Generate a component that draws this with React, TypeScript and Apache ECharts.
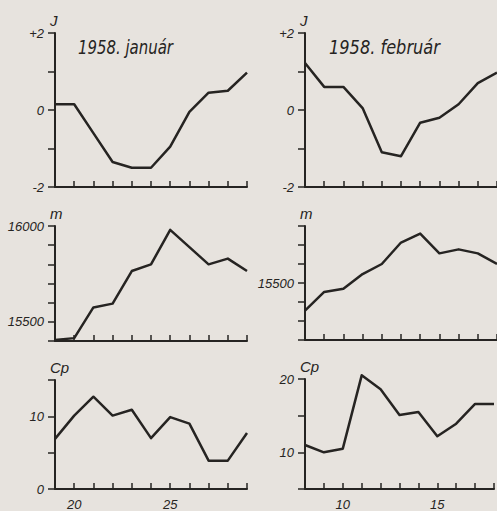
import React, { useEffect, useRef } from "react";
import * as echarts from "echarts";

// ---- data ----
const janDays = [19, 20, 21, 22, 23, 24, 25, 26, 27, 28, 29];
const febDays = [8, 9, 10, 11, 12, 13, 14, 15, 16, 17, 18];

const janJ = [0.15, 0.15, -0.6, -1.35, -1.5, -1.5, -0.95, -0.05, 0.45, 0.5, 0.97];
const febJ = [1.22, 0.6, 0.6, 0.05, -1.1, -1.2, -0.33, -0.2, 0.15, 0.7, 0.97];

const janM = [15405, 15415, 15575, 15595, 15765, 15800, 15980, 15890, 15800, 15830, 15765];
const febM = [15355, 15453, 15470, 15547, 15600, 15713, 15760, 15656, 15677, 15656, 15600];

const janCp = [6.9, 10.1, 12.7, 10.1, 10.9, 7.0, 9.9, 9.0, 3.9, 3.9, 7.7];
const febCp = [11.0, 10.0, 10.5, 20.5, 18.6, 15.1, 15.5, 12.2, 13.9, 16.6, 16.6];

const janTickLabels = [20, 25];
const febTickLabels = [10, 15];
const jLabels = [2, 0, -2];
const janMLabels = [16000, 15500];
const febMLabels = [15500];
const janCpLabels = [10, 0];
const febCpLabels = [20, 10];

const titles = ["1958. január", "1958. február"];

const INK = "#262422";
const BG = "#e7e3de";
const FONT = "'Liberation Sans', Arial, sans-serif";
const NARROW = "'Liberation Sans Narrow', 'DejaVu Sans Condensed', sans-serif";

export default function App() {
  const ref = useRef<HTMLDivElement>(null);
  useEffect(() => {
    if (!ref.current) return;
    const chart = echarts.init(ref.current, null, { renderer: "svg" });

    const grids = [
      { left: 55, top: 33, width: 192, height: 154 },
      { left: 305, top: 33, width: 192, height: 154 },
      { left: 55, top: 226, width: 192, height: 115 },
      { left: 305, top: 226, width: 192, height: 114 },
      { left: 55, top: 380, width: 192, height: 115 },
      { left: 305, top: 379, width: 192, height: 115 },
    ];

    const mkX = (gi: number, min: number, max: number, labels: number[] | null) => ({
      type: "value",
      gridIndex: gi,
      min,
      max,
      interval: 1,
      axisLine: { show: true, onZero: false, lineStyle: { color: INK, width: 2 } },
      axisTick: { show: true, inside: true, length: 6, lineStyle: { color: INK, width: 1.5 } },
      axisLabel: labels
        ? {
            show: true,
            margin: 9,
            color: INK,
            fontFamily: FONT,
            fontStyle: "italic",
            fontSize: 13,
            formatter: (v: number) => (labels.includes(v) ? String(v) : ""),
          }
        : { show: false },
      splitLine: { show: false },
    });

    const mkY = (
      gi: number,
      min: number,
      max: number,
      interval: number,
      labels: number[],
      name: string,
      fmt?: (v: number) => string
    ) => ({
      type: "value",
      gridIndex: gi,
      min,
      max,
      interval,
      name,
      nameLocation: "end",
      nameGap: 5,
      nameTextStyle: {
        color: INK,
        fontFamily: FONT,
        fontStyle: "italic",
        fontSize: 15,
        align: "left",
        padding: [0, 0, 0, -5],
      },
      axisLine: { show: true, lineStyle: { color: INK, width: 2 } },
      axisTick: { show: true, inside: false, length: 7, lineStyle: { color: INK, width: 1.5 } },
      axisLabel: {
        show: true,
        margin: 11,
        color: INK,
        fontFamily: FONT,
        fontStyle: "italic",
        fontSize: 13,
        formatter: (v: number) => (labels.includes(v) ? (fmt ? fmt(v) : String(v)) : ""),
      },
      splitLine: { show: false },
    });

    const jFmt = (v: number) => (v > 0 ? "+" + v : String(v));

    const xAxis = [
      mkX(0, 19, 29, null),
      mkX(1, 8, 18, null),
      mkX(2, 19, 29, null),
      mkX(3, 8, 18, null),
      mkX(4, 19, 29, janTickLabels),
      mkX(5, 8, 18, febTickLabels),
    ];
    const yAxis = [
      mkY(0, -2, 2, 1, jLabels, "J", jFmt),
      mkY(1, -2, 2, 1, jLabels, "J", jFmt),
      mkY(2, 15400, 16000, 100, janMLabels, "m"),
      mkY(3, 15200, 15800, 100, febMLabels, "m"),
      mkY(4, 0, 15, 5, janCpLabels, "Cp"),
      mkY(5, 5, 20, 5, febCpLabels, "Cp"),
    ];

    const pairs = (days: number[], vals: number[]) => days.map((d, i) => [d, vals[i]]);
    const datasets = [
      pairs(janDays, janJ),
      pairs(febDays, febJ),
      pairs(janDays, janM),
      pairs(febDays, febM),
      pairs(janDays, janCp),
      pairs(febDays, febCp),
    ];
    const series = datasets.map((d, i) => ({
      type: "line",
      xAxisIndex: i,
      yAxisIndex: i,
      data: d,
      showSymbol: false,
      symbol: "none",
      clip: false,
      lineStyle: { color: INK, width: 2.5, join: "round" },
    }));

    chart.setOption({
      animation: false,
      backgroundColor: BG,
      grid: grids,
      xAxis,
      yAxis,
      series,
      graphic: [
        {
          type: "text",
          x: 78,
          y: 37,
          scaleX: 0.83,
          style: { text: titles[0], fill: INK, font: `italic 20px ${NARROW}`, verticalAlign: "top" },
        },
        {
          type: "text",
          x: 329,
          y: 37,
          scaleX: 0.9,
          style: { text: titles[1], fill: INK, font: `italic 20px ${NARROW}`, verticalAlign: "top" },
        },
      ],
    });
    return () => chart.dispose();
  }, []);
  return (
    <div
      ref={ref}
      style={{ position: "absolute", left: 0, top: 0, width: 497, height: 511 }}
    />
  );
}
